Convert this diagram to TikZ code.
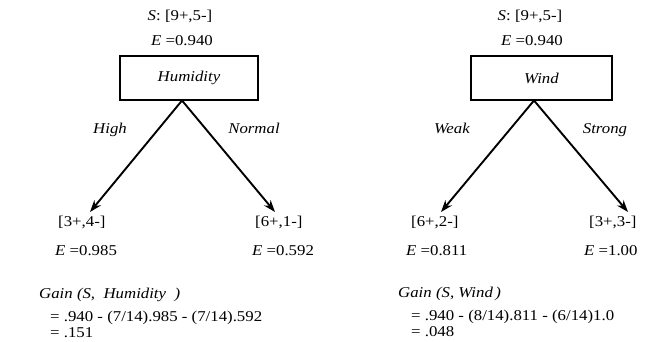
\documentclass[tikz,border=0pt]{standalone}
\usepackage{fontspec}
\setmainfont{Liberation Serif}[FakeStretch=1.12]
\usetikzlibrary{arrows.meta}
\tikzset{
  box/.style={draw, line width=2.2pt, minimum width=138pt, minimum height=44pt, inner sep=0pt},
  txt/.style={inner sep=0pt, anchor=base},
  txtl/.style={inner sep=0pt, anchor=base west},
  arr/.style={line width=1.9pt, -{Stealth[length=12pt,width=8.5pt]}}
}
\begin{document}
\begin{tikzpicture}[x=1pt,y=-1pt,font=\fontsize{15pt}{18pt}\selectfont]
\useasboundingbox (0,0) rectangle (652,341);
% ---------- left tree ----------
\node[txt] (hs) at (180,20) {\textit{S}: [9+,5-]};
\node[txt] (he) at (182,45) {\textit{E} =0.940};
\node[box] (hum) at (189,78) {\textit{Humidity}};
\coordinate (hapex) at (182,100.5);
\coordinate (hl) at (90,212);
\coordinate (hr) at (275,212);
\draw[arr] (hapex) -- (hl);
\draw[arr] (hapex) -- (hr);
\node[txt] (hhigh) at (110,133) {\textit{High}};
\node[txt] (hnorm) at (254,133) {\textit{Normal}};
\node[txtl] (hl1) at (58,226) {[3+,4-]};
\node[txtl] (hl2) at (55,255) {\textit{E} =0.985};
\node[txtl] (hr1) at (255,226) {[6+,1-]};
\node[txtl] (hr2) at (252,255) {\textit{E} =0.592};
\node[txtl] (hg1) at (39,298) {\textit{Gain (S,\ \ Humidity\ \ )}};
\node[txtl] (hg2) at (50,321) {= .940 - (7/14).985 - (7/14).592};
\node[txtl] (hg3) at (50,337) {= .151};
% ---------- right tree ----------
\node[txt] (ws) at (530,20) {\textit{S}: [9+,5-]};
\node[txt] (we) at (532,45) {\textit{E} =0.940};
\node[box, minimum width=141pt] (wind) at (541.5,78) {\textit{Wind}};
\coordinate (wapex) at (534,100.5);
\coordinate (wl) at (441,212);
\coordinate (wr) at (628,212);
\draw[arr] (wapex) -- (wl);
\draw[arr] (wapex) -- (wr);
\node[txt] (wweak) at (452,133) {\textit{Weak}};
\node[txt] (wstrong) at (605,133) {\textit{Strong}};
\node[txtl] (wl1) at (411,226) {[6+,2-]};
\node[txtl] (wl2) at (406,255) {\textit{E} =0.811};
\node[txtl] (wr1) at (589,226) {[3+,3-]};
\node[txtl] (wr2) at (584,255) {\textit{E} =1.00};
\node[txtl] (wg1) at (398,297) {\textit{Gain (S, Wind\,)}};
\node[txtl] (wg2) at (411,320) {= .940 - (8/14).811 - (6/14)1.0};
\node[txtl] (wg3) at (411,336) {= .048};
\end{tikzpicture}
\end{document}
